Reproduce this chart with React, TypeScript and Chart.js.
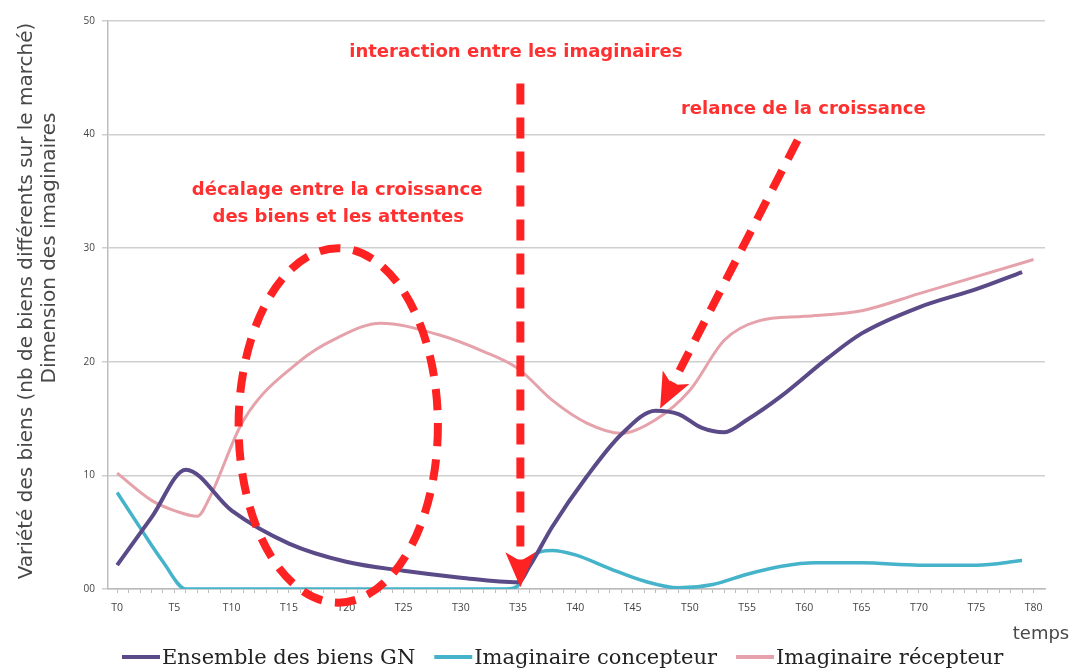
import React, { useEffect, useRef } from 'react';
import { Chart, registerables } from 'chart.js';

Chart.register(...registerables);

// ---- data ----
const seriesNames = ['Ensemble des biens GN', 'Imaginaire concepteur', 'Imaginaire récepteur'];
const seriesColors = ['#5a4a88', '#45b3c9', '#e6a2ab'];

const ensembleT = [0, 3, 6, 10, 15, 20, 25, 30, 35, 36, 38, 41, 44, 47, 49, 51, 53, 55, 58, 62, 65, 70, 75, 79];
const ensembleV = [2.1, 6.3, 10.5, 6.9, 4.0, 2.4, 1.6, 1.0, 0.6, 2.0, 5.5, 9.9, 13.6, 15.7, 15.4, 14.2, 13.8, 14.9, 17.0, 20.3, 22.5, 24.8, 26.4, 27.9];

const concepteurT = [0, 2, 4, 6, 10, 20, 30, 34, 35, 36, 38, 40, 43, 46, 49, 52, 55, 58, 61, 65, 70, 75, 79];
const concepteurV = [8.5, 5.4, 2.4, 0, 0, 0, 0, 0, 0.3, 2.6, 3.4, 3.0, 1.8, 0.7, 0.1, 0.4, 1.3, 2.0, 2.3, 2.3, 2.1, 2.1, 2.5];

const recepteurT = [0, 3, 5, 7, 8, 11, 16, 19, 23, 28, 32, 35, 38, 41, 44, 47, 50, 53, 56, 60, 65, 70, 75, 80];
const recepteurV = [10.2, 7.8, 6.9, 6.4, 7.9, 14.8, 20.1, 22.0, 23.4, 22.4, 20.9, 19.4, 16.6, 14.6, 13.7, 14.9, 17.5, 21.9, 23.6, 24.0, 24.5, 26.0, 27.5, 29.0];

const timeLabelPrefix = 'T';
const timeLabelStep = 5;
const timeMax = 80;
const yTickValues = [0, 10, 20, 30, 40, 50];
const yTickLabels = ['00', '10', '20', '30', '40', '50'];

const yTitleLines = ['Variété des biens (nb de biens différents sur le marché)', 'Dimension des imaginaires'];
const xTitle = 'temps';
const noteInteraction = 'interaction entre les imaginaires';
const noteRelance = 'relance de la croissance';
const noteDecalage = ['décalage entre la croissance', 'des biens et les attentes'];

const toPoints = (t: number[], v: number[]) => t.map((tt, i) => ({ x: tt, y: v[i] }));

const RED = '#ff2222';

function arrowHead(ctx: CanvasRenderingContext2D, tipX: number, tipY: number, fromX: number, fromY: number, len: number, half: number) {
  const ang = Math.atan2(tipY - fromY, tipX - fromX);
  const bx = tipX - Math.cos(ang) * len;
  const by = tipY - Math.sin(ang) * len;
  const nx = -Math.sin(ang), ny = Math.cos(ang);
  ctx.beginPath();
  ctx.moveTo(tipX, tipY);
  ctx.lineTo(bx + nx * half, by + ny * half);
  ctx.lineTo(tipX - Math.cos(ang) * len * 0.75, tipY - Math.sin(ang) * len * 0.75);
  ctx.lineTo(bx - nx * half, by - ny * half);
  ctx.closePath();
  ctx.fill();
}

const annotationPlugin = {
  id: 'annotations',
  afterDatasetsDraw(chart: any) {
    const { ctx, scales, chartArea } = chart;
    const x = scales.x, y = scales.y;
    const px = (t: number) => x.getPixelForValue(t);
    const py = (v: number) => y.getPixelForValue(v);
    ctx.save();
    ctx.strokeStyle = RED;
    ctx.fillStyle = RED;
    ctx.lineWidth = 8;
    ctx.lineCap = 'butt';
    ctx.setLineDash([21, 13]);

    // ellipse
    const cx = px(19.3), cy = py(14.4);
    ctx.beginPath();
    ctx.ellipse(cx, cy, px(28) - cx, cy - py(30), 0, 0, Math.PI * 2);
    ctx.stroke();

    // vertical arrow
    const vx = px(35.2);
    const vTipY = py(0.15);
    ctx.beginPath();
    ctx.moveTo(vx, py(44.5));
    ctx.lineTo(vx, vTipY - 26);
    ctx.stroke();
    ctx.setLineDash([]);
    arrowHead(ctx, vx, vTipY, vx, py(44.5), 35, 15);

    // diagonal arrow
    ctx.setLineDash([21, 13]);
    const sx = px(59.4), sy = py(39.5);
    const tx = px(47.4), ty = py(15.9);
    const ang = Math.atan2(ty - sy, tx - sx);
    ctx.beginPath();
    ctx.moveTo(sx, sy);
    ctx.lineTo(tx - Math.cos(ang) * 26, ty - Math.sin(ang) * 26);
    ctx.stroke();
    ctx.setLineDash([]);
    arrowHead(ctx, tx, ty, sx, sy, 35, 15);

    // red notes
    ctx.font = 'bold 18px "DejaVu Sans"';
    ctx.textAlign = 'center';
    ctx.textBaseline = 'middle';
    ctx.fillStyle = '#ff3030';
    ctx.fillText(noteInteraction, px(34.8), py(47.2));
    ctx.fillText(noteRelance, px(59.9), py(42.2));
    ctx.fillText(noteDecalage[0], px(19.2), py(35.1));
    ctx.fillText(noteDecalage[1], px(19.3), py(32.7));

    // axis titles
    ctx.fillStyle = '#484848';
    ctx.font = '20px "DejaVu Sans"';
    const midY = (chartArea.top + chartArea.bottom) / 2;
    ctx.save();
    ctx.translate(chartArea.left - 81, midY - 4);
    ctx.rotate(-Math.PI / 2);
    ctx.fillText(yTitleLines[0], 0, 0);
    ctx.restore();
    ctx.save();
    ctx.translate(chartArea.left - 58, midY - 57);
    ctx.rotate(-Math.PI / 2);
    ctx.fillText(yTitleLines[1], 0, 0);
    ctx.restore();

    ctx.font = '18px "DejaVu Sans"';
    ctx.fillText(xTitle, chartArea.right - 4, chartArea.bottom + 45);

    // legend
    ctx.font = '21px "DejaVu Serif"';
    ctx.textAlign = 'left';
    ctx.textBaseline = 'alphabetic';
    let lx = chartArea.left + 14;
    const baseY = chartArea.bottom + 75;
    chart.data.datasets.forEach((ds: any) => {
      ctx.strokeStyle = ds.borderColor;
      ctx.lineWidth = 4;
      ctx.beginPath();
      ctx.moveTo(lx, baseY - 7);
      ctx.lineTo(lx + 38, baseY - 7);
      ctx.stroke();
      lx += 40;
      ctx.fillStyle = '#222';
      ctx.fillText(ds.label, lx, baseY);
      lx += ctx.measureText(ds.label).width + 19;
    });
    ctx.restore();
  },
};

export default function App() {
  const ref = useRef<HTMLCanvasElement>(null);
  useEffect(() => {
    const chart = new Chart(ref.current as HTMLCanvasElement, {
      type: 'line',
      data: {
        datasets: [
          {
            label: seriesNames[0],
            data: toPoints(ensembleT, ensembleV),
            borderColor: seriesColors[0],
            backgroundColor: seriesColors[0],
            borderWidth: 4,
            pointRadius: 0,
            cubicInterpolationMode: 'monotone',
            fill: false,
          },
          {
            label: seriesNames[1],
            data: toPoints(concepteurT, concepteurV),
            borderColor: seriesColors[1],
            backgroundColor: seriesColors[1],
            borderWidth: 3.5,
            pointRadius: 0,
            cubicInterpolationMode: 'monotone',
            fill: false,
          },
          {
            label: seriesNames[2],
            data: toPoints(recepteurT, recepteurV),
            borderColor: seriesColors[2],
            backgroundColor: seriesColors[2],
            borderWidth: 3,
            pointRadius: 0,
            cubicInterpolationMode: 'monotone',
            fill: false,
          },
        ],
      },
      options: {
        responsive: false,
        animation: false,
        events: [],
        layout: { padding: { top: 21, right: 32, bottom: 0, left: 0 } },
        scales: {
          x: {
            type: 'linear',
            min: -0.8,
            max: 81,
            afterBuildTicks: (s: any) => {
              const ticks = [];
              for (let i = 0; i <= timeMax; i++) ticks.push({ value: i });
              s.ticks = ticks;
            },
            afterFit: (s: any) => { s.height = 80; },
            ticks: {
              autoSkip: false,
              maxRotation: 0,
              padding: 9,
              color: '#444',
              font: { family: 'Open Sans', size: 10.5 },
              callback: (v: any) => (v % timeLabelStep === 0 ? timeLabelPrefix + v : ''),
            },
            grid: { drawOnChartArea: false, tickLength: 4, color: '#bbbbbb' },
            border: { color: '#bbbbbb', width: 1.5 },
          },
          y: {
            min: 0,
            max: 50,
            afterBuildTicks: (s: any) => { s.ticks = yTickValues.map((v) => ({ value: v })); },
            afterFit: (s: any) => { s.width = 108; },
            ticks: {
              padding: 7,
              color: '#444',
              font: { family: 'Open Sans', size: 10 },
              callback: (v: any) => yTickLabels[yTickValues.indexOf(v)],
            },
            grid: { color: '#cfcfcf', lineWidth: 1.5, tickLength: 6 },
            border: { color: '#bdbdbd', width: 1.5 },
          },
        },
        plugins: {
          tooltip: { enabled: false },
          legend: { display: false },
        },
      },
      plugins: [annotationPlugin],
    } as any);
    return () => chart.destroy();
  }, []);
  return (
    <div style={{ position: 'absolute', left: 0, top: 0, width: 1077, height: 669, overflow: 'hidden', background: '#fff' }}>
      <canvas ref={ref} width={1077} height={669} style={{ display: 'block' }} />
    </div>
  );
}
